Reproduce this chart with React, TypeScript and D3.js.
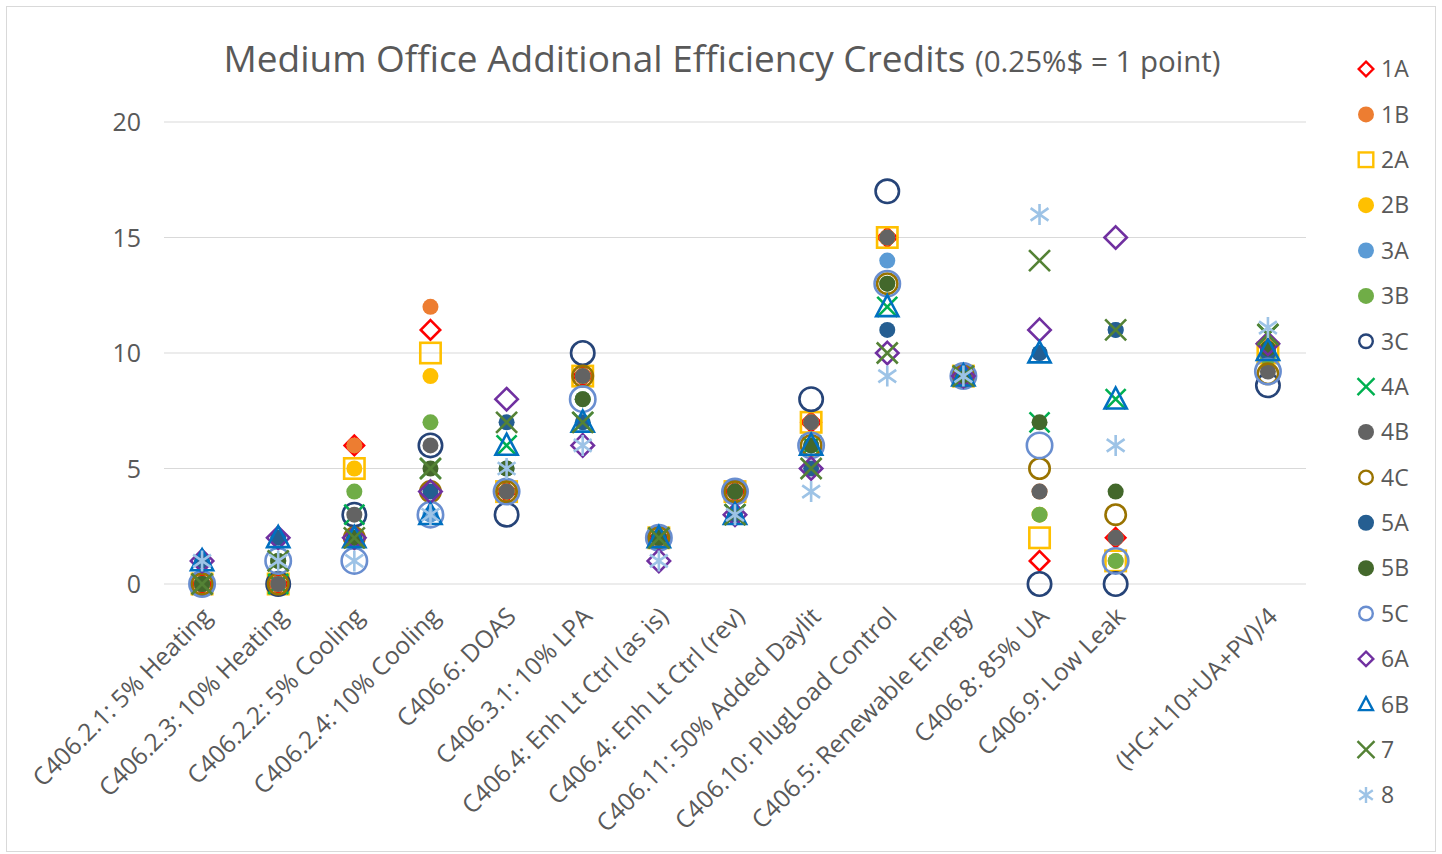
import { useMemo } from 'react';
import * as d3 from 'd3';

const categories = [
  'C406.2.1: 5% Heating',
  'C406.2.3: 10% Heating',
  'C406.2.2: 5% Cooling',
  'C406.2.4: 10% Cooling',
  'C406.6: DOAS',
  'C406.3.1: 10% LPA',
  'C406.4: Enh Lt Ctrl (as is)',
  'C406.4: Enh Lt Ctrl (rev)',
  'C406.11: 50% Added Daylit',
  'C406.10: PlugLoad Control',
  'C406.5: Renewable Energy',
  'C406.8: 85% UA',
  'C406.9: Low Leak',
  '',
  '(HC+L10+UA+PV)/4',
];

const seriesNames = ['1A', '1B', '2A', '2B', '3A', '3B', '3C', '4A', '4B', '4C', '5A', '5B', '5C', '6A', '6B', '7', '8'];

const v1A = [0, 0, 6, 11, 4, 9, 2, 4, 7, 15, 9, 1, 2, null, 10.4];
const v1B = [0, 0, 6, 12, 4, 9, 2, 4, 7, 15, 9, 4, 2, null, 10.3];
const v2A = [0, 0, 5, 10, 4, 9, 2, 4, 7, 15, 9, 2, 1, null, 10];
const v2B = [0, 0, 5, 9, 4, 9, 2, 4, 7, 15, 9, 3, 1, null, 10];
const v3A = [0, 1, 2, 3, 5, 8, 2, 4, 6, 14, 9, 10, 11, null, 10];
const v3B = [0, 1, 4, 7, 4, 8, 2, 4, 6, 13, 9, 3, 1, null, 9.8];
const v3C = [0, 0, 3, 6, 3, 10, 2, 4, 8, 17, 9, 0, 0, null, 8.6];
const v4A = [0, 0, 3, 5, 6, 7, 2, 3, 6, 12, 9, 7, 8, null, 10.8];
const v4B = [0, 0, 3, 6, 4, 9, 2, 4, 7, 15, 9, 4, 2, null, 9.2];
const v4C = [0, 0, 2, 4, 4, 9, 2, 4, 6, 13, 9, 5, 3, null, 9.1];
const v5A = [1, 2, 2, 4, 7, 7, 2, 3, 5, 11, 9, 10, 11, null, 10];
const v5B = [0, 1, 2, 5, 5, 8, 2, 4, 6, 13, 9, 7, 4, null, 10.2];
const v5C = [0, 1, 1, 3, 4, 8, 2, 4, 6, 13, 9, 6, 1, null, 9.2];
const v6A = [1, 2, 2, 4, 8, 6, 1, 3, 5, 10, 9, 11, 15, null, 10.4];
const v6B = [1, 2, 2, 3, 6, 7, 2, 3, 6, 12, 9, 10, 8, null, 10.1];
const v7 = [0, 1, 2, 5, 7, 7, 2, 3, 5, 10, 9, 14, 11, null, 10.8];
const v8 = [1, 1, 1, 3, 5, 6, 1, 3, 4, 9, 9, 16, 6, null, 11.1];

const seriesValues = [v1A, v1B, v2A, v2B, v3A, v3B, v3C, v4A, v4B, v4C, v5A, v5B, v5C, v6A, v6B, v7, v8];

const yTicks = [0, 5, 10, 15, 20];

// marker style per series: shape, colour, half-size in plot, filled or not
const markers = [
  { shape: 'diamond', color: '#FF0000', size: 11, fill: false },
  { shape: 'circle', color: '#ED7D31', size: 8, fill: true },
  { shape: 'square', color: '#FFC000', size: 11.5, fill: false },
  { shape: 'circle', color: '#FFC000', size: 8, fill: true },
  { shape: 'circle', color: '#5B9BD5', size: 8, fill: true },
  { shape: 'circle', color: '#70AD47', size: 8, fill: true },
  { shape: 'circle', color: '#264478', size: 13, fill: false },
  { shape: 'x', color: '#00B050', size: 10, fill: false },
  { shape: 'circle', color: '#636363', size: 8, fill: true },
  { shape: 'circle', color: '#997300', size: 11.5, fill: false },
  { shape: 'circle', color: '#255E91', size: 8, fill: true },
  { shape: 'circle', color: '#43682B', size: 8, fill: true },
  { shape: 'circle', color: '#698ED0', size: 14, fill: false },
  { shape: 'diamond', color: '#7030A0', size: 12.5, fill: false },
  { shape: 'triangle', color: '#0070C0', size: 13, fill: false },
  { shape: 'x', color: '#548235', size: 10.5, fill: false },
  { shape: 'asterisk', color: '#9DC3E6', size: 10.5, fill: false },
];

const FONT = "'Open Sans', 'Noto Sans', sans-serif";
const TEXT = '#595959';

function Marker({ shape, color, size, fill, sw = 2.6 }: any) {
  const s = size;
  if (shape === 'circle') {
    return fill
      ? <circle r={s} fill={color} />
      : <circle r={s - sw / 2} fill="none" stroke={color} strokeWidth={sw} />;
  }
  if (shape === 'square') {
    const h = s - sw / 2;
    return <rect x={-h} y={-h} width={2 * h} height={2 * h} fill="none" stroke={color} strokeWidth={sw} />;
  }
  let d = '';
  if (shape === 'diamond') {
    const h = s - sw / 2;
    d = `M0,${-h}L${h},0L0,${h}L${-h},0Z`;
  }
  if (shape === 'triangle') {
    const h = s - sw / 2;
    d = `M0,${-h}L${h * 0.95},${h * 0.8}L${-h * 0.95},${h * 0.8}Z`;
  }
  if (shape === 'x') d = `M${-s},${-s}L${s},${s}M${-s},${s}L${s},${-s}`;
  if (shape === 'asterisk') {
    const a = s * 0.85;
    d = `M0,${-s}L0,${s}M${-a},${-a * 0.7}L${a},${a * 0.7}M${-a},${a * 0.7}L${a},${-a * 0.7}`;
  }
  return <path d={d} fill="none" stroke={color} strokeWidth={sw} strokeLinejoin="miter" />;
}

export default function App() {
  const width = 1442;
  const height = 854;
  const left = 164;
  const right = 1306;
  const top = 122;
  const bottom = 584;

  const x = useMemo(() => d3.scalePoint<string>().domain(categories.map((c, i) => String(i))).range([left, right]).padding(0.5), []);
  const y = useMemo(() => d3.scaleLinear().domain([0, 20]).range([bottom, top]), []);

  return (
    <div style={{ position: 'absolute', left: 0, top: 0 }}>
      <svg width={width} height={height} style={{ display: 'block', background: '#fff' }}>
        <rect x={6.5} y={6.5} width={1429} height={845} fill="#fff" stroke="#d9d9d9" strokeWidth={1} />

        {/* title */}
        <text x={722} y={72} textAnchor="middle" fill={TEXT} fontFamily={FONT}>
          <tspan fontSize={37}>Medium Office Additional Efficiency Credits </tspan>
          <tspan fontSize={29.5}>(0.25%$ = 1 point)</tspan>
        </text>

        {/* gridlines and y labels */}
        {yTicks.map(t => (
          <g key={t}>
            <line x1={left} x2={right} y1={y(t)} y2={y(t)} stroke="#d9d9d9" strokeWidth={1} />
            <text x={141} y={y(t)} dy="0.36em" textAnchor="end" fontSize={25} fill={TEXT} fontFamily={FONT}>{t}</text>
          </g>
        ))}

        {/* x labels */}
        {categories.map((c, i) => {
          const cx = x(String(i))! - 2;
          const cy = 605;
          return (
            <text key={i} transform={`translate(${cx},${cy}) rotate(-45)`} textAnchor="end" dy="0.75em"
              fontSize={24.5} fill={TEXT} fontFamily={FONT}>{c}</text>
          );
        })}

        {/* points */}
        {seriesValues.map((vals, si) => (
          <g key={seriesNames[si]}>
            {vals.map((v, ci) => v === null ? null : (
              <g key={ci} transform={`translate(${x(String(ci))},${y(v)})`}>
                <Marker {...markers[si]} />
              </g>
            ))}
          </g>
        ))}

        {/* legend */}
        {seriesNames.map((name, si) => {
          const ly = 69 + si * 45.375;
          const m = markers[si];
          const ls = m.shape === 'circle' ? 8 : m.shape === 'asterisk' ? 8 : 8.5;
          return (
            <g key={name} transform={`translate(0,${ly})`}>
              <g transform="translate(1366,0)">
                <Marker shape={m.shape} color={m.color} size={ls} fill={m.fill} sw={2.4} />
              </g>
              <text x={1381} y={0} dy="0.36em" fontSize={23} fill={TEXT} fontFamily={FONT}>{name}</text>
            </g>
          );
        })}
      </svg>
    </div>
  );
}
